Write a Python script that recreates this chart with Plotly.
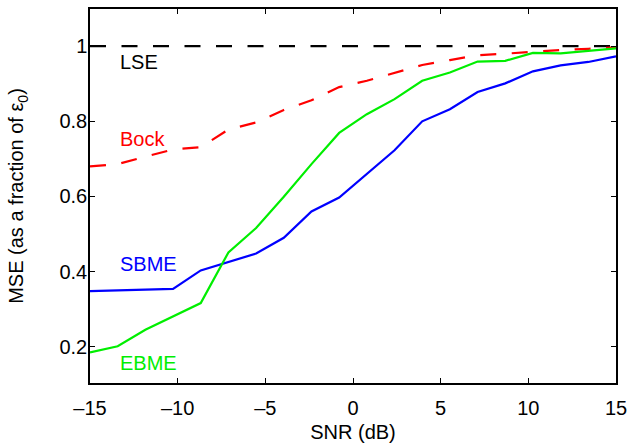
import numpy as np
import plotly.graph_objects as go

snr = np.linspace(-15, 15, 20)

lse = [1.0] * 20
bock = [0.680, 0.686, 0.706, 0.725, 0.731, 0.778, 0.797, 0.830, 0.856, 0.891,
        0.908, 0.930, 0.950, 0.963, 0.976, 0.980, 0.985, 0.990, 0.993, 0.997]
sbme = [0.348, 0.350, 0.353, 0.354, 0.403, 0.425, 0.448, 0.490, 0.560, 0.597,
        0.660, 0.723, 0.800, 0.832, 0.878, 0.901, 0.933, 0.949, 0.958, 0.973]
ebme = [0.185, 0.201, 0.245, 0.281, 0.316, 0.451, 0.516, 0.599, 0.686, 0.769,
        0.819, 0.859, 0.908, 0.930, 0.959, 0.961, 0.982, 0.981, 0.987, 0.994]

x_ticks = [-15, -10, -5, 0, 5, 10, 15]
x_tick_labels = ["\u201315", "\u201310", "\u20135", "0", "5", "10", "15"]
y_ticks = [0.2, 0.4, 0.6, 0.8, 1.0]
y_tick_labels = ["0.2", "0.4", "0.6", "0.8", "1"]

labels = ["LSE", "Bock", "SBME", "EBME"]
label_x = [-13.42, -13.42, -13.42, -13.42]
label_y = [0.957, 0.754, 0.421, 0.157]
colors = ["#000000", "#ff0000", "#0000ff", "#00ee00"]

FONT = "Liberation Sans, Arial, Helvetica, sans-serif"
FS = 20

fig = go.Figure()
fig.add_trace(go.Scatter(x=snr, y=lse, mode="lines",
                         line=dict(color="#000000", width=2.2, dash="16px,15.5px")))
fig.add_trace(go.Scatter(x=snr, y=bock, mode="lines",
                         line=dict(color="#ff0000", width=2.2, dash="16px,15.5px")))
fig.add_trace(go.Scatter(x=snr, y=sbme, mode="lines",
                         line=dict(color="#0000ff", width=2.2)))
fig.add_trace(go.Scatter(x=snr, y=ebme, mode="lines",
                         line=dict(color="#00ee00", width=2.2)))

for t, xx, yy, c in zip(labels, label_x, label_y, colors):
    fig.add_annotation(x=xx, y=yy, text=t, showarrow=False, xanchor="left",
                       yanchor="middle", font=dict(family=FONT, size=FS, color=c))

axis_common = dict(showgrid=False, zeroline=False, showline=True, linecolor="black",
                   linewidth=1.5, mirror="ticks", ticks="inside", ticklen=5,
                   tickcolor="black", tickwidth=1,
                   tickfont=dict(family=FONT, size=FS, color="black"))

fig.update_xaxes(range=[-15, 15], tickvals=x_ticks, ticktext=x_tick_labels,
                 title=dict(text="SNR (dB)", font=dict(family=FONT, size=FS, color="black"),
                            standoff=7),
                 ticklabelstandoff=6, **axis_common)
fig.update_yaxes(range=[0.1033, 1.099], tickvals=y_ticks, ticktext=y_tick_labels,
                 title=dict(text="MSE (as a fraction of \u03b5<sub>0</sub>)",
                            font=dict(family=FONT, size=FS, color="black"), standoff=30),
                 ticklabelstandoff=-3, **axis_common)

fig.update_layout(width=634, height=447, showlegend=False,
                  margin=dict(l=90, r=13, t=7, b=59),
                  plot_bgcolor="white", paper_bgcolor="white")

fig.write_html("out.html")
